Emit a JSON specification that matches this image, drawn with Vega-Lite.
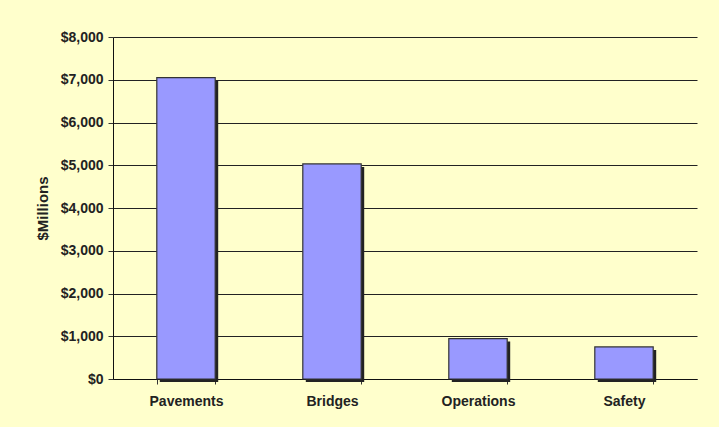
{
  "$schema": "https://vega.github.io/schema/vega-lite/v6.json",
  "width": 584,
  "height": 342,
  "autosize": {"type": "none"},
  "padding": {"left": 113, "top": 37, "right": 22, "bottom": 48},
  "background": "#FFFFCC",
  "data": {
    "values": [
      {"category": "Pavements", "value": 7050},
      {"category": "Bridges", "value": 5030},
      {"category": "Operations", "value": 946},
      {"category": "Safety", "value": 750}
    ]
  },
  "encoding": {
    "x": {
      "field": "category",
      "type": "nominal",
      "sort": null,
      "scale": {"paddingInner": 0.6, "paddingOuter": 0.3},
      "axis": {
        "title": null,
        "labelAngle": 0,
        "labelFont": "Liberation Sans",
        "labelFontWeight": "bold",
        "labelFontSize": 14,
        "labelColor": "#222222",
        "labelPadding": 10,
        "tickBand": "extent",
        "tickSize": 5,
        "tickColor": "#333333",
        "domainColor": "#111111",
        "grid": false
      }
    },
    "y": {
      "field": "value",
      "type": "quantitative",
      "scale": {"domain": [0, 8000]},
      "axis": {
        "title": "$Millions",
        "titleFont": "Liberation Sans",
        "titleFontWeight": "bold",
        "titleFontSize": 15,
        "titleColor": "#222222",
        "titlePadding": 10,
        "values": [0, 1000, 2000, 3000, 4000, 5000, 6000, 7000, 8000],
        "format": "$,.0f",
        "labelFont": "Liberation Sans",
        "labelFontWeight": "bold",
        "labelFontSize": 14,
        "labelColor": "#222222",
        "labelPadding": 5,
        "tickSize": 5,
        "tickColor": "#333333",
        "domainColor": "#111111",
        "grid": true,
        "gridColor": "#222222",
        "gridWidth": 1
      }
    }
  },
  "layer": [
    {
      "mark": {"type": "bar", "color": "#222222", "xOffset": 3, "yOffset": 3, "y2Offset": -3}
    },
    {
      "mark": {"type": "bar", "color": "#9999FF", "stroke": "#333333", "strokeWidth": 1.2}
    }
  ],
  "config": {
    "view": {"stroke": null}
  }
}
